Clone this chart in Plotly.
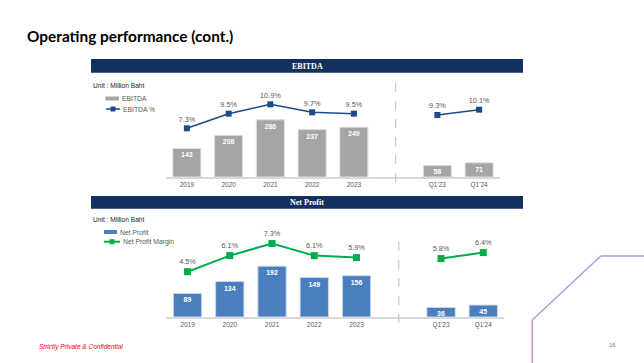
import plotly.graph_objects as go

# ---------------- data ----------------
categories = ["2019", "2020", "2021", "2022", "2023", " ", "Q1'23", "Q1'24"]
years = ["2019", "2020", "2021", "2022", "2023"]
quarters = ["Q1'23", "Q1'24"]
gap = [" "]

ebitda_year = [143, 208, 286, 237, 249]
ebitda_q = [58, 71]
ebitda_pct_year = [7.3, 9.5, 10.9, 9.7, 9.5]
ebitda_pct_q = [9.3, 10.1]

np_year = [89, 134, 192, 149, 156]
np_q = [36, 45]
npm_year = [4.5, 6.1, 7.3, 6.1, 5.9]
npm_q = [5.8, 6.4]

# ---------------- layout helpers ----------------
W, H = 644, 363


def px(x):
    return x / W


def py(y):
    return 1 - y / H


NAVY = "#12315e"
GRAY_BAR = "#a5a5a5"
BLUE_BAR = "#4a7ebf"
LINE_NAVY = "#1c4a8a"
GREEN = "#00ad4c"
TXT = "#595959"
FONT = "Liberation Sans"

fig = go.Figure()

# ---------------- EBITDA chart ----------------
fig.add_trace(go.Bar(
    x=years + quarters, y=ebitda_year + ebitda_q,
    xaxis="x", yaxis="y",
    marker=dict(color=GRAY_BAR, line=dict(color="#dcdcdc", width=1)),
    width=0.67,
    text=[str(v) for v in ebitda_year + ebitda_q],
    textposition="inside", insidetextanchor="end", constraintext="none",
    textfont=dict(family=FONT, size=7, color="white", weight="bold"),
    showlegend=False, hoverinfo="skip",
))
fig.add_trace(go.Scatter(
    x=years + gap + quarters, y=ebitda_pct_year + [None] + ebitda_pct_q,
    xaxis="x", yaxis="y2", mode="lines+markers+text",
    line=dict(color=LINE_NAVY, width=1.5),
    marker=dict(symbol="square", size=6, color=LINE_NAVY),
    text=[f"{v:.1f}%" for v in ebitda_pct_year] + [""] + [f"{v:.1f}%" for v in ebitda_pct_q],
    textposition="top center",
    textfont=dict(family=FONT, size=7.3, color=TXT),
    connectgaps=False, cliponaxis=False, showlegend=False, hoverinfo="skip",
))

# ---------------- Net Profit chart ----------------
fig.add_trace(go.Bar(
    x=years + quarters, y=np_year + np_q,
    xaxis="x2", yaxis="y3",
    marker=dict(color=BLUE_BAR, line=dict(color="#c8d8ee", width=1)),
    width=0.67,
    text=[str(v) for v in np_year + np_q],
    textposition="inside", insidetextanchor="end", constraintext="none",
    textfont=dict(family=FONT, size=7, color="white", weight="bold"),
    showlegend=False, hoverinfo="skip",
))
fig.add_trace(go.Scatter(
    x=years + gap + quarters, y=npm_year + [None] + npm_q,
    xaxis="x2", yaxis="y4", mode="lines+markers+text",
    line=dict(color=GREEN, width=2),
    marker=dict(symbol="square", size=7, color=GREEN),
    text=[f"{v:.1f}%" for v in npm_year] + [""] + [f"{v:.1f}%" for v in npm_q],
    textposition="top center",
    textfont=dict(family=FONT, size=7.3, color=TXT),
    connectgaps=False, cliponaxis=False, showlegend=False, hoverinfo="skip",
))

xcommon = dict(
    type="category", categoryorder="array", categoryarray=categories,
    range=[-0.5, 7.5], showgrid=False, zeroline=False,
    showline=True, linecolor="#d9d9d9", linewidth=1.5,
    ticks="", tickfont=dict(family=FONT, size=6.5, color=TXT),
    fixedrange=True,
)
ycommon = dict(showgrid=False, zeroline=False, showline=False,
               showticklabels=False, ticks="", fixedrange=True)

fig.update_layout(
    width=W, height=H,
    margin=dict(l=0, r=0, t=0, b=0),
    paper_bgcolor="white", plot_bgcolor="white",
    barmode="overlay",
    xaxis=dict(xcommon, domain=[px(166), px(500)], anchor="y"),
    yaxis=dict(ycommon, domain=[py(177), py(87)], range=[0, 450]),
    yaxis2=dict(ycommon, overlaying="y", range=[0, 13.5], anchor="x"),
    xaxis2=dict(xcommon, domain=[px(166.4), px(504.4)], anchor="y3"),
    yaxis3=dict(ycommon, domain=[py(317), py(227)], range=[0, 340], anchor="x2"),
    yaxis4=dict(ycommon, overlaying="y3", range=[0, 8.94], anchor="x2"),
    showlegend=False,
)

shapes = []
annotations = []

# title
annotations.append(dict(x=px(25), y=py(36), xref="paper", yref="paper",
                        text="<b>Operating performance (cont.)</b>", showarrow=False,
                        xanchor="left", yanchor="middle",
                        font=dict(family="Lato", size=15.4, color="black")))

# header bars
for (y0, y1, label, yc) in [(59, 72.7, "EBITDA", 66), (196, 208.7, "Net Profit", 202.5)]:
    shapes.append(dict(type="rect", xref="paper", yref="paper",
                       x0=px(91), x1=px(523), y0=py(y1), y1=py(y0),
                       fillcolor=NAVY, line=dict(width=0), layer="below"))
    annotations.append(dict(x=px(307), y=py(yc), xref="paper", yref="paper",
                            text=f"<b>{label}</b>", showarrow=False,
                            xanchor="center", yanchor="middle",
                            font=dict(family="Liberation Serif", size=8, color="white")))

# unit labels
for yc in [85, 219]:
    annotations.append(dict(x=px(91), y=py(yc), xref="paper", yref="paper",
                            text="Unit : Million Baht", showarrow=False,
                            xanchor="left", yanchor="middle",
                            font=dict(family=FONT, size=6.6, color="#222222")))

# legends (drawn)
def legend_bar(x0, x1, yc, color, label):
    shapes.append(dict(type="rect", xref="paper", yref="paper",
                       x0=px(x0), x1=px(x1), y0=py(yc + 2), y1=py(yc - 2),
                       fillcolor=color, line=dict(width=0)))
    annotations.append(dict(x=px(x1 + 0.5), y=py(yc), xref="paper", yref="paper",
                            text=label, showarrow=False, xanchor="left", yanchor="middle",
                            font=dict(family=FONT, size=6.8, color=TXT)))


def legend_line(x0, x1, yc, color, label, lw, ms):
    xm = (x0 + x1) / 2
    shapes.append(dict(type="line", xref="paper", yref="paper",
                       x0=px(x0), x1=px(x1), y0=py(yc), y1=py(yc),
                       line=dict(color=color, width=lw)))
    shapes.append(dict(type="rect", xref="paper", yref="paper",
                       x0=px(xm - ms / 2), x1=px(xm + ms / 2), y0=py(yc + ms / 2), y1=py(yc - ms / 2),
                       fillcolor=color, line=dict(width=0)))
    annotations.append(dict(x=px(x1 + 0.5), y=py(yc), xref="paper", yref="paper",
                            text=label, showarrow=False, xanchor="left", yanchor="middle",
                            font=dict(family=FONT, size=6.8, color=TXT)))


legend_bar(105.5, 119, 98.5, GRAY_BAR, "EBITDA")
legend_line(106, 120, 109, LINE_NAVY, "EBITDA %", 1.5, 5)
legend_bar(104, 117, 232, BLUE_BAR, "Net Profit")
legend_line(104, 120, 241.7, GREEN, "Net Profit Margin", 2, 5)

# dashed dividers at the gap category
shapes.append(dict(type="line", xref="x", yref="paper", x0=5, x1=5,
                   y0=py(182), y1=py(82), line=dict(color="#c8c8c8", width=1.2, dash="dash")))
shapes.append(dict(type="line", xref="x2", yref="paper", x0=5, x1=5,
                   y0=py(323), y1=py(242), line=dict(color="#c8c8c8", width=1.2, dash="dash")))

# decorative lines bottom-right
shapes.append(dict(type="line", xref="paper", yref="paper", x0=px(532.3), x1=px(532.3),
                   y0=py(363), y1=py(320), line=dict(color="#c78fd6", width=1.5)))
shapes.append(dict(type="line", xref="paper", yref="paper", x0=px(532.3), x1=px(600.7),
                   y0=py(320), y1=py(256), line=dict(color="#b897da", width=1.5)))
shapes.append(dict(type="line", xref="paper", yref="paper", x0=px(600.7), x1=px(644),
                   y0=py(256), y1=py(256), line=dict(color="#a1a0e0", width=1.5)))

# footer
annotations.append(dict(x=px(37), y=py(347), xref="paper", yref="paper",
                        text="<i>Strictly Private & Confidential</i>", showarrow=False,
                        xanchor="left", yanchor="middle",
                        font=dict(family=FONT, size=6.5, color="#e8000b")))
annotations.append(dict(x=px(612.7), y=py(344.7), xref="paper", yref="paper",
                        text="16", showarrow=False, xanchor="center", yanchor="middle",
                        font=dict(family=FONT, size=6, color="#707070")))

fig.update_layout(shapes=shapes, annotations=annotations)

fig.write_html("out.html", config={"displayModeBar": False},
               post_script="document.body.style.margin='0';")
